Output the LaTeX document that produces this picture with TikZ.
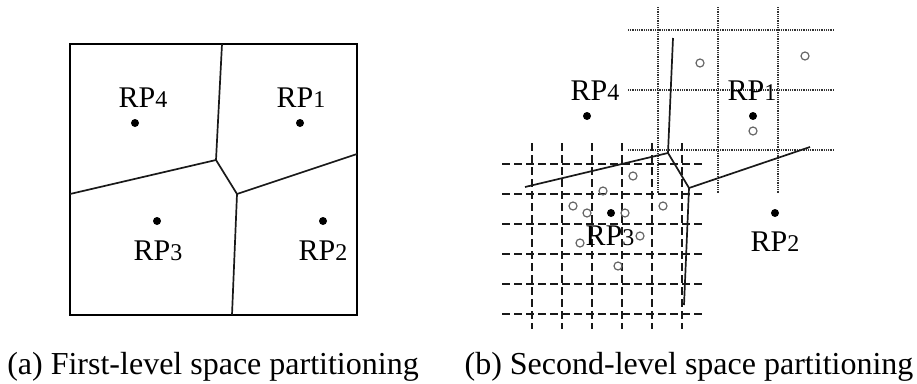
\documentclass[tikz,border=0pt]{standalone}
\usepackage{fontspec}
\setmainfont{Liberation Serif}
\begin{document}
\begin{tikzpicture}[x=1pt,y=-1pt,
  rplabel/.style={anchor=base,inner sep=0pt,font=\fontsize{30}{36}\selectfont},
  caption/.style={anchor=base,inner sep=0pt,font=\fontsize{32}{38}\selectfont},
  rpdot/.style={circle,fill=black,inner sep=0pt,minimum size=8pt},
  sample/.style={circle,draw=black!60,line width=1.2pt,inner sep=0pt,minimum size=8pt},
  border/.style={line width=2pt},
  cellline/.style={line width=1.7pt,black!90},
  coarse/.style={line width=1.5pt,black!80,dash pattern=on 1pt off 0.8pt},
  fine/.style={line width=1.5pt,black!90,dash pattern=on 7.5pt off 4.5pt}
]
\newcommand{\rpn}[1]{RP{\fontsize{24}{28}\selectfont #1}}
\useasboundingbox (0,0) rectangle (917,383);
% ---------------- left panel ----------------
\node[draw,border,inner sep=0pt,minimum width=287pt,minimum height=271pt] (frame) at (213.5,179.5) {};
\coordinate (aT) at (222,44);
\coordinate (aJ1) at (216,160);
\coordinate (aJ2) at (237,194);
\coordinate (aL) at (70,194);
\coordinate (aR) at (357,154);
\coordinate (aB) at (232,315);
\draw[cellline] (aT) -- (aJ1) -- (aJ2) -- (aB);
\draw[cellline] (aL) -- (aJ1);
\draw[cellline] (aJ2) -- (aR);
\node[rpdot] (a4) at (135,123) {};
\node[rpdot] (a1) at (300,123) {};
\node[rpdot] (a3) at (157,221) {};
\node[rpdot] (a2) at (323,221) {};
\node[rplabel] (la4) at (143,107) {\rpn{4}};
\node[rplabel] (la1) at (301,107) {\rpn{1}};
\node[rplabel] (la3) at (158,260) {\rpn{3}};
\node[rplabel] (la2) at (323,260) {\rpn{2}};
% ---------------- right panel ----------------
% coarse dotted grid
\foreach \x in {658,718,778} \draw[coarse] (\x,7) -- (\x,193);
\foreach \y in {30,90,150} \draw[coarse] (628,\y) -- (834,\y);
% fine dashed grid
\foreach \x in {532,562,592,622,652,682} \draw[fine] (\x,143) -- (\x,329);
\foreach \y in {164,194,224,254,284,314} \draw[fine] (502,\y) -- (704,\y);
% cell boundaries
\coordinate (bT) at (673,38);
\coordinate (bJ1) at (668,153);
\coordinate (bJ2) at (689,188);
\coordinate (bL) at (525,187);
\coordinate (bR) at (810,147);
\coordinate (bB) at (684,305);
\draw[cellline] (bT) -- (bJ1) -- (bJ2) -- (bB);
\draw[cellline] (bL) -- (bJ1);
\draw[cellline] (bJ2) -- (bR);
% samples
\foreach \p [count=\i] in {(700,63),(805,56),(753,131),(633,176),(603,191),(573,206),(587,213),(625,213),(663,206),(640,236),(580,243),(618,266)}
  \node[sample] (s\i) at \p {};
% reference points
\node[rpdot] (b4) at (587,116) {};
\node[rpdot] (b1) at (753,116) {};
\node[rpdot] (b3) at (611,213) {};
\node[rpdot] (b2) at (775,213) {};
\node[rplabel] (lb4) at (595,100) {\rpn{4}};
\node[rplabel] (lb1) at (752,100) {\rpn{1}};
\node[rplabel] (lb3) at (610,245) {\rpn{3}};
\node[rplabel] (lb2) at (775,251) {\rpn{2}};
% captions
\node[caption] (capa) at (213,374) {(a) First-level space partitioning};
\node[caption] (capb) at (689,374) {(b) Second-level space partitioning};
\end{tikzpicture}
\end{document}
